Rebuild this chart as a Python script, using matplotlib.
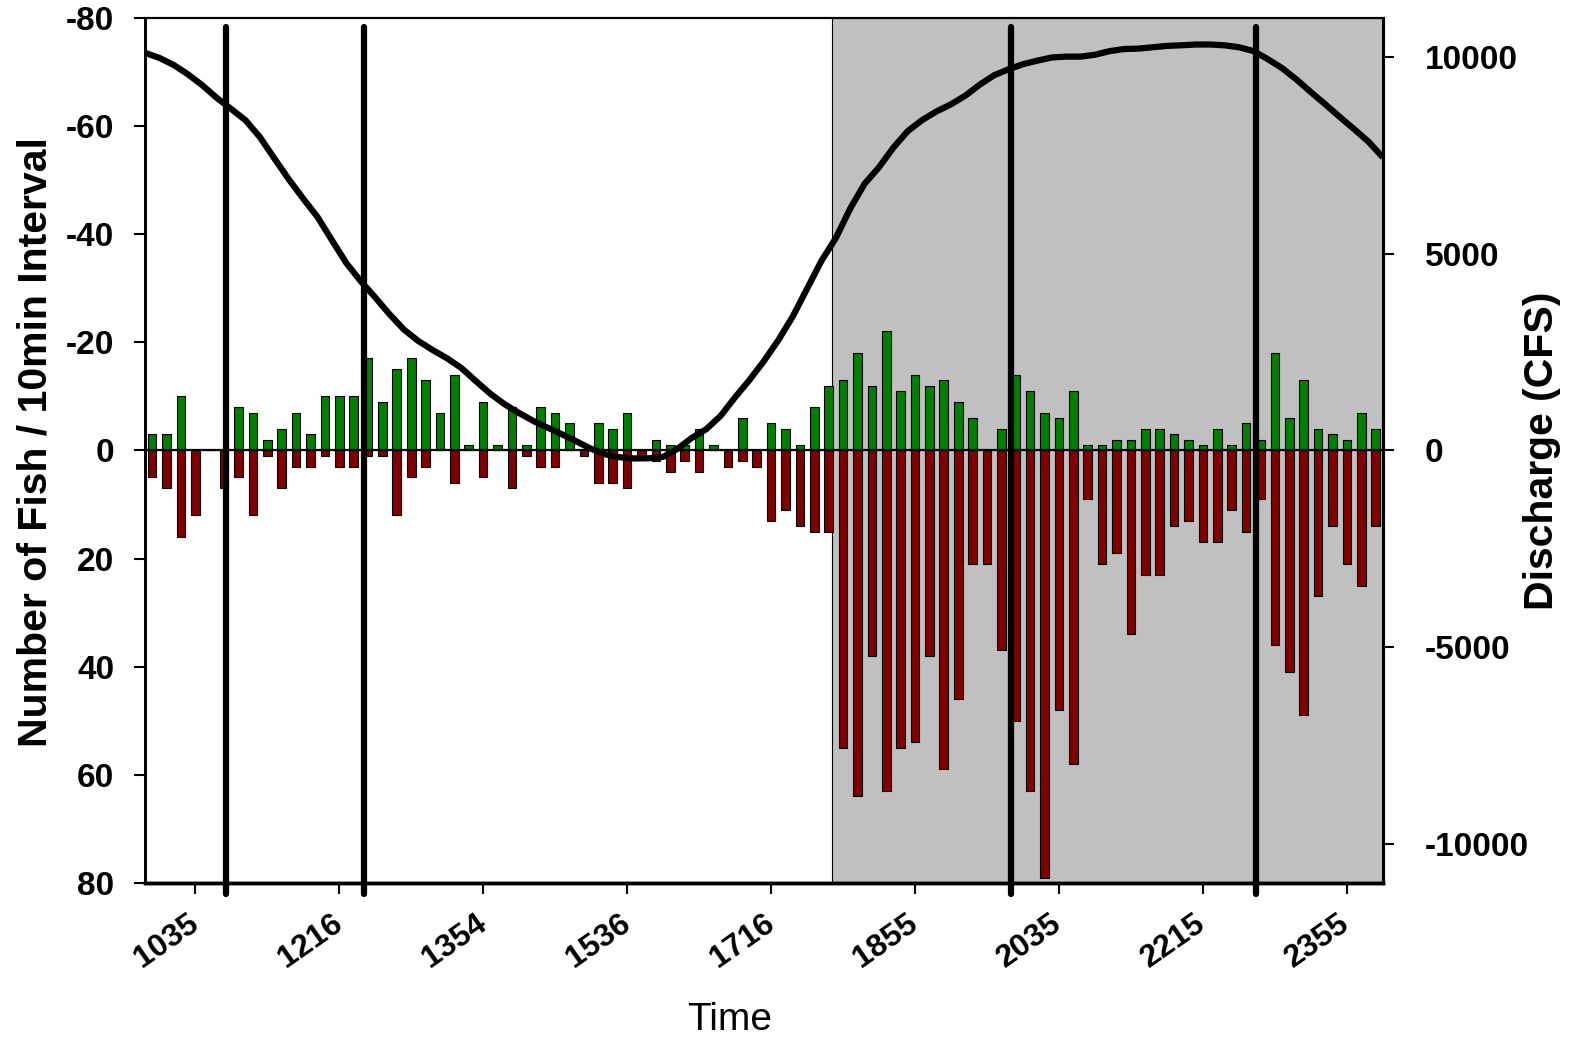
import numpy as np
import matplotlib
matplotlib.use("Agg")
import matplotlib.pyplot as plt

plt.rcParams['font.family'] = ['Liberation Sans', 'DejaVu Sans']
plt.rcParams['axes.unicode_minus'] = False

# fish counts per 10 min interval (86 intervals)
upstream = [3, 3, 10, 0, 0, 0, 8, 7, 2, 4, 7, 3, 10, 10, 10, 17, 9, 15, 17, 13,
            7, 14, 1, 9, 1, 8, 1, 8, 7, 5, 0, 5, 4, 7, 0, 2, 1, 1, 4, 1,
            0, 6, 0, 5, 4, 1, 8, 12, 13, 18, 12, 22, 11, 14, 12, 13, 9, 6, 0, 4,
            14, 11, 7, 6, 11, 1, 1, 2, 2, 4, 4, 3, 2, 1, 4, 1, 5, 2, 18, 6,
            13, 4, 3, 2, 7, 4]
downstream = [5, 7, 16, 12, 0, 7, 5, 12, 1, 7, 3, 3, 1, 3, 3, 1, 1, 12, 5, 3,
              0, 6, 0, 5, 0, 7, 1, 3, 3, 0, 1, 6, 6, 7, 1, 2, 4, 2, 4, 0,
              3, 2, 3, 13, 11, 14, 15, 15, 55, 64, 38, 63, 55, 54, 38, 59, 46, 21, 21, 37,
              50, 63, 79, 48, 58, 9, 21, 19, 34, 23, 23, 14, 13, 17, 17, 11, 15, 9, 36, 41,
              49, 27, 14, 21, 25, 14]

# discharge (CFS) at interval boundaries
discharge = [10110, 9980, 9800, 9560, 9280, 8960, 8680, 8390, 7960, 7420,
             6890, 6400, 5930, 5340, 4760, 4300, 3890, 3460, 3070, 2780,
             2550, 2340, 2090, 1760, 1440, 1170, 950, 745, 575, 405,
             225, 40, -100, -175, -205, -200, -165, 40, 320, 540,
             880, 1350, 1790, 2270, 2800, 3400, 4110, 4820, 5400, 6150,
             6780, 7200, 7700, 8120, 8400, 8620, 8800, 9020, 9300, 9540,
             9690, 9820, 9910, 9990, 10012, 10012, 10060, 10150, 10205, 10215,
             10250, 10285, 10300, 10320, 10320, 10300, 10250, 10155, 9950, 9720,
             9430, 9110, 8800, 8480, 8170, 7850, 7450]

tick_labels = ['1035', '1216', '1354', '1536', '1716', '1855', '2035', '2215', '2355']
events = [5.1, 14.75, 59.7, 76.7]
night_start = 47.2

n = len(upstream)
x = np.arange(n)
xq = np.arange(len(discharge)) - 0.5

fig = plt.figure(figsize=(15.75, 10.45), dpi=100)
ax = fig.add_axes([0.092, 0.155, 0.786, 0.828])

ax.axvspan(night_start, n - 0.5, facecolor='#c0c0c0', edgecolor='black', linewidth=0.8, zorder=0)
ax.bar(x, -np.array(upstream), width=0.6, color='#008000', edgecolor='black', linewidth=0.8, zorder=2)
ax.bar(x, downstream, width=0.6, color='#800000', edgecolor='black', linewidth=0.8, zorder=2)
ax.axhline(0, color='black', linewidth=1.6, zorder=3)

vl = ax.vlines(events, -78.3, 82, colors='black', linewidth=4.5, zorder=5, clip_on=False)
vl.set_capstyle('round')

ax.set_xlim(-0.5, n - 0.5)
ax.set_ylim(80, -80)
ax.set_yticks(np.arange(-80, 81, 20))
ax.set_xticks(np.arange(3, n, 10))
ax.set_xticklabels(tick_labels, rotation=35, ha='right', va='center', rotation_mode='anchor')

for lab in ax.get_yticklabels():
    lab.set_fontsize(24)
    lab.set_fontweight('bold')
for lab in ax.get_xticklabels():
    lab.set_fontsize(23)
    lab.set_fontweight('bold')
ax.tick_params(axis='y', direction='out', length=8, width=1.5, pad=14)
ax.tick_params(axis='x', direction='out', length=8, width=1.5, pad=19)

ax.set_ylabel('Number of Fish / 10min Interval', fontsize=29.5, fontweight='bold')
ax.yaxis.set_label_coords(-0.073, 0.51)
ax.set_xlabel('Time', fontsize=28)
ax.xaxis.set_label_coords(0.472, -0.137)

ax2 = ax.twinx()
ax2.plot(xq, discharge, color='black', linewidth=4.5, solid_capstyle='butt', zorder=4)
ax2.set_ylim(-11000, 11000)
ax2.set_yticks([-10000, -5000, 0, 5000, 10000])
for lab in ax2.get_yticklabels():
    lab.set_fontsize(24)
    lab.set_fontweight('bold')
ax2.tick_params(axis='y', direction='out', length=8, width=1.5, pad=22)
ax2.set_ylabel('Discharge (CFS)', fontsize=29.5, fontweight='bold')
ax2.yaxis.set_label_coords(1.113, 0.499)

for a in (ax, ax2):
    a.spines['top'].set_linewidth(1.5)
    a.spines['left'].set_linewidth(2)
    a.spines['right'].set_linewidth(2.2)
    a.spines['bottom'].set_linewidth(2.5)

fig.savefig('out.png', dpi=100)
